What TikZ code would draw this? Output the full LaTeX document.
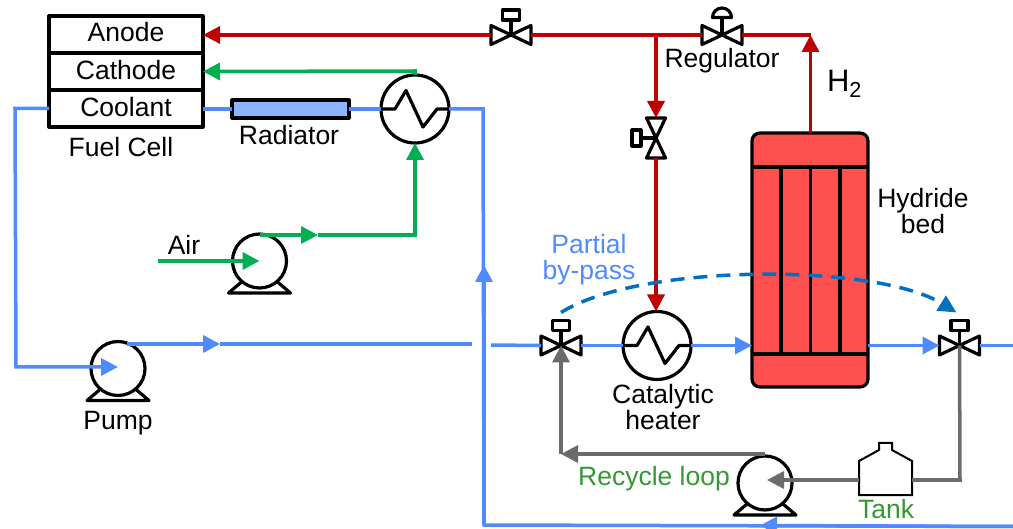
\documentclass[tikz,border=0pt]{standalone}
\usepackage{fontspec}
\setmainfont{Liberation Sans}
\usetikzlibrary{arrows.meta,calc}
\definecolor{cred}{HTML}{C00000}
\definecolor{cgreen}{HTML}{00B050}
\definecolor{cblue}{HTML}{4F8AFF}
\definecolor{cgray}{HTML}{6B6B6B}
\definecolor{cdash}{HTML}{0070C0}
\definecolor{ctext}{HTML}{339933}
\definecolor{cbed}{HTML}{FF5050}
\definecolor{crad}{HTML}{8DB4FF}
\tikzset{
  lbl/.style={font=\fontsize{26.5}{26}\selectfont,align=center,inner sep=0pt},
  sym/.style={draw=black,line width=3.2pt,line join=round},
  cellbox/.style={sym,minimum width=154pt,minimum height=37pt,inner sep=0pt,outer sep=0pt,font=\fontsize{26.5}{26}\selectfont},
  round sym/.style={sym,circle,minimum size=#1,inner sep=0pt,outer sep=0pt},
  valvebody/.style={minimum width=40pt,minimum height=19pt,inner sep=0pt,outer sep=0pt},
  pipe/.style={line width=3.5pt,line join=miter},
  tip/.style={-{Triangle[length=17pt,width=17pt]}},
  redp/.style={pipe,draw=cred},
  greenp/.style={pipe,draw=cgreen},
  bluep/.style={pipe,draw=cblue},
  grayp/.style={pipe,draw=cgray},
}
% valve symbols
\newcommand{\hvalve}[3]{%
  \node[valvebody] (#1) at (#2,#3) {};
  \draw[sym] (#1.north west) -- (#1.south east) -- (#1.south east |- #1.north) -- (#1.south west) -- cycle;
}
\newcommand{\actbox}[1]{%
  \draw[sym] (#1.center) -- ++(0,-15);
  \node[sym,minimum width=17pt,minimum height=10pt,inner sep=0pt,outer sep=0pt,anchor=south] (#1box) at ($(#1.center)+(0,-15)$) {};
}
% pump: name, x, y
\newcommand{\pumpsym}[3]{%
  \node[round sym=54pt] (#1) at (#2,#3) {};
  \draw[sym] ($(#1.center)+(-18,21)$) -- ($(#1.center)+(-31,32)$) -- ($(#1.center)+(31,32)$) -- ($(#1.center)+(18,21)$);
}
% exchanger
\newcommand{\hxsym}[3]{%
  \node[round sym=68pt] (#1) at (#2,#3) {};
  \draw[sym] (#1.west) -- ++(14,0) -- ++(11,-18.5) -- ++(17,36.5) -- ++(14,-18) -- (#1.east);
}
\begin{document}
\begin{tikzpicture}[x=1pt,y=-1pt]
\useasboundingbox (0,0) rectangle (1013,529);

% Fuel cell
\node[cellbox] (anode) at (126,34.5) {\raisebox{4.5pt}{Anode}};
\node[cellbox] (cathode) at (126,71.5) {\raisebox{3pt}{Cathode}};
\node[cellbox] (coolant) at (126,108.5) {\raisebox{3pt}{Coolant}};
\node[lbl] (fclabel) at (121,147) {Fuel Cell};

% Radiator
\node[sym,fill=crad,minimum width=117pt,minimum height=18pt,inner sep=0pt,outer sep=0pt] (rad) at (290.5,109) {};
\node[lbl] (radlabel) at (289,135) {Radiator};

% Heat exchangers
\hxsym{hxa}{415}{109}
\hxsym{hxb}{657}{345.5}

% Pumps
\pumpsym{airpump}{259.5}{261}
\pumpsym{coolpump}{118}{368.5}
\pumpsym{recpump}{765}{483}

% Valves
\hvalve{va}{511}{35}
\actbox{va}
\hvalve{reg}{722}{35}
\draw[sym] (reg.center) -- ++(0,-17);
\draw[sym,fill=white] ($(reg.center)+(-9.5,-17.5)$) arc[start angle=180,end angle=360,radius=9.5] -- cycle;
\hvalve{vl}{561}{345.5}
\actbox{vl}
\hvalve{vr}{959.5}{345.5}
\actbox{vr}
% vertical valve
\node[minimum width=19pt,minimum height=40pt,inner sep=0pt,outer sep=0pt] (vv) at (656,138) {};
\draw[sym] (vv.north west) -- (vv.south east) -- (vv.south west) -- (vv.north east) -- cycle;
\draw[sym] (vv.center) -- ++(-15,0);
\node[sym,minimum width=9pt,minimum height=16pt,inner sep=0pt,outer sep=0pt,anchor=east] (vvbox) at ($(vv.center)+(-15,0)$) {};

% Hydride bed
\node[sym,fill=cbed,rounded corners=8pt,minimum width=116pt,minimum height=254pt,inner sep=0pt,outer sep=0pt] (bed) at (810,260) {};
\coordinate (bedtl) at (752,167);
\coordinate (bedtr) at (868,167);
\coordinate (bedbl) at (752,354);
\coordinate (bedbr) at (868,354);
\draw[sym] (bedtl) -- (bedtr);
\draw[sym] (bedbl) -- (bedbr);
\foreach \x in {781,810.5,840} \draw[sym] (\x,167) -- (\x,354);

% Tank
\node[minimum width=53pt,minimum height=52pt,inner sep=0pt,outer sep=0pt] (tank) at (885.5,469) {};
\draw[draw=black,line width=2pt,line join=miter] (tank.south west) -- (859,461) -- (879,450) -- (879,443) -- (892,443) -- (892,450) -- (912,461) -- (tank.south east) -- cycle;

% Coordinates
\coordinate (tjunc) at (656,35);
\coordinate (h2corner) at (810.5,35);
\coordinate (airin) at (158,261);
\coordinate (airmid) at (318,235);
\coordinate (aircorner) at (415,235);
\coordinate (cathcorner) at (415,71);
\coordinate (cwest) at (15,108.5);
\coordinate (csw) at (16,367);
\coordinate (coolstart) at (127,344);
\coordinate (coolmid) at (220,344);
\coordinate (coolend) at (472,344);
\coordinate (coolres) at (491,345);
\coordinate (rcorner) at (483,109);
\coordinate (rup) at (484,265);
\coordinate (rbot) at (484,525);
\coordinate (bmid) at (760,525.5);
\coordinate (bend) at (1013,526.5);
\coordinate (outend) at (1013,345.5);
\coordinate (graycorner) at (561,454);
\coordinate (graycorner2) at (960,480);
\coordinate (recpumpin) at (767,480);

% Red pipes
\draw[redp,tip] (va.west) -- (anode.east |- va);
\draw[redp] (va.east) -- (reg.west);
\draw[redp] (reg.east) -- (h2corner);
\draw[redp,tip] (bed.north -| h2corner) -- (h2corner);
\draw[redp,tip] (tjunc) -- (vv.north);
\draw[redp,tip] (vv.south) -- (vv.south |- hxb.north);

% Green pipes
\draw[greenp,tip] (airin) -- (airpump.center);
\draw[greenp,tip] (airpump.north |- airmid) -- (airmid);
\draw[greenp,tip] (airmid) -- (aircorner) -- (hxa.south);
\draw[greenp,tip] (hxa.north) -- (cathcorner) -- (cathode.east);

% Blue pipes
\draw[bluep] (coolant.east |- rad) -- (rad.west);
\draw[bluep] (rad.east) -- (hxa.west);
\draw[bluep] (hxa.east) -- (rcorner) -- (rbot) -- (bend);
\draw[bluep,tip] (rbot) -- (rup);
\draw[bluep,tip] (bend) -- (bmid);
\draw[bluep,tip] (coolant.west) -- (cwest) -- (csw) -- (coolpump.center |- csw);
\draw[bluep,tip] (coolstart) -- (coolmid);
\draw[bluep] (coolmid) -- (coolend);
\draw[bluep] (coolres) -- (vl.west);
\draw[bluep] (vl.east) -- (hxb.west);
\draw[bluep,tip] (hxb.east) -- (bed.west |- hxb);
\draw[bluep,tip] (bed.east |- vr) -- (vr.west);
\draw[bluep] (vr.east) -- (outend);

% Gray pipes
\draw[grayp,tip] (recpump.north |- graycorner) -- (graycorner);
\draw[grayp,tip] (graycorner) -- (vl.center);
\draw[grayp,tip] (tank.west |- recpumpin) -- (recpumpin);
\draw[grayp] (tank.east |- recpumpin) -- (graycorner2) -- (vr.center);

% By-pass
\draw[line width=3.5pt,draw=cdash,dash pattern=on 14pt off 9pt,-{Triangle[length=18pt,width=17pt]}] (vlbox.north) ++(0,-8) .. controls (640,263) and (876,263) .. ($(vrbox.north)+(-3,-8)$);

% Labels
\node[lbl] (airlbl) at (184,245) {Air};
\node[lbl] (pumplbl) at (118,423) {Pump};
\node[lbl] (reglbl) at (722,61) {Regulator};
\node[lbl,font=\fontsize{31}{31}\selectfont] (h2lbl) at (844.5,84) {H\textsubscript{2}};
\node[lbl] (hydlbl) at (923,211) {Hydride\\bed};
\node[lbl,text=cblue] (bypasslbl) at (589,260) {Partial\\by-pass};
\node[lbl] (catlbl) at (663,407) {Catalytic\\heater};
\node[lbl,text=ctext] (reclbl) at (654,479) {Recycle loop};
\node[lbl,text=ctext] (tanklbl) at (886,509) {Tank};
\end{tikzpicture}
\end{document}
